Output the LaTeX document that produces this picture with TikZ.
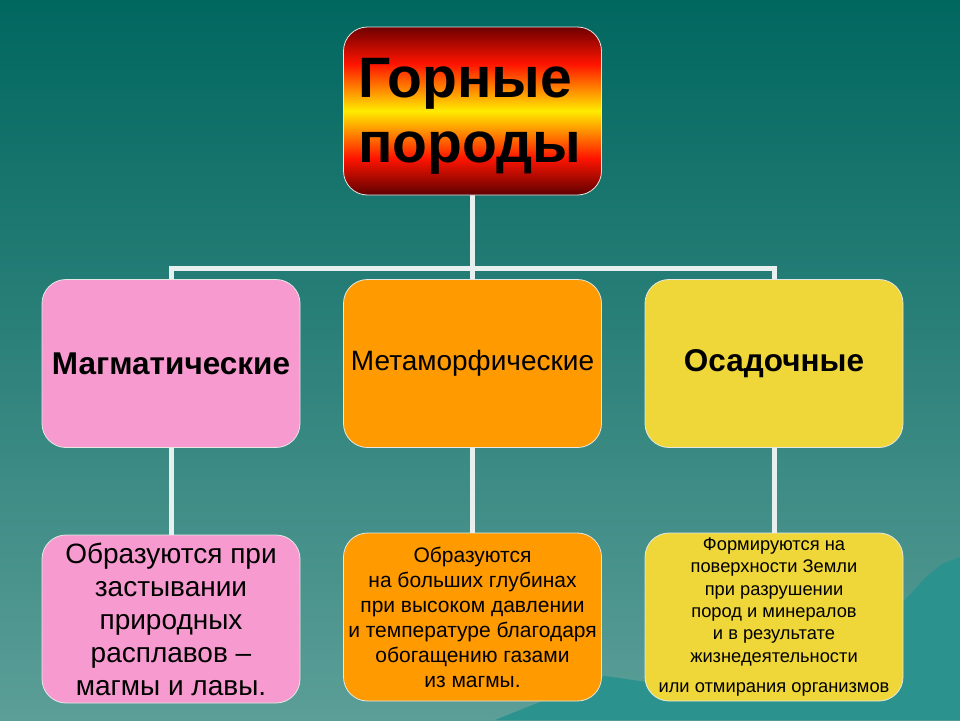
\documentclass[tikz,border=0pt]{standalone}
\usepackage{fontspec}
\setmainfont{Liberation Sans}
\definecolor{bgtop}{HTML}{00675F}
\definecolor{bgmid}{HTML}{357C77}
\definecolor{bgbot}{HTML}{5C9E98}
\definecolor{mount}{HTML}{2B928D}
\definecolor{fdark}{HTML}{6E0000}
\definecolor{fdarkb}{HTML}{5E0000}
\definecolor{fred}{HTML}{FF1400}
\definecolor{fyel}{HTML}{FFEC00}
\definecolor{cpink}{HTML}{F79ACF}
\definecolor{corange}{HTML}{FF9A00}
\definecolor{cyellow}{HTML}{EFD73A}
\definecolor{boxline}{HTML}{E4E8E4}
\definecolor{connc}{HTML}{E8F0EF}
\pgfdeclareverticalshading{fire}{100bp}{color(0bp)=(fdarkb); color(25bp)=(fdarkb); color(36bp)=(fred); color(50bp)=(fyel); color(64bp)=(fred); color(75bp)=(fdark); color(100bp)=(fdark)}
\pgfdeclarelayer{bg}
\pgfdeclarelayer{conn}
\pgfsetlayers{bg,conn,main}
\begin{document}
\begin{tikzpicture}[x=1pt,y=-1pt,
  box/.style={draw=boxline, line width=0.8pt, rounded corners=24pt,
    minimum width=258pt, minimum height=168pt, align=center, inner sep=0pt},
  conn/.style={draw=connc, line width=5pt}]
\useasboundingbox (0,0) rectangle (960,720);
\begin{pgfonlayer}{bg}
\fill[top color=bgtop, middle color=bgmid, bottom color=bgbot] (0,0) rectangle (960,720);
\fill[mount] (495,720) -- (540,702) -- (580,686) -- (605,676) -- (640,681) -- (700,690)
  -- (860,640) -- (905,600) -- (925,578) -- (942,564) -- (960,557) -- (960,720) -- cycle;
\end{pgfonlayer}
\node[box, shade, shading=fire] (top) at (472.5,111) {};
\node[font=\fontsize{57}{65}\selectfont\bfseries, align=left, inner sep=0pt] (toptext)
  at ([xshift=-3pt,yshift=-5pt]top.center) {Горные\\ породы};
\node[box, fill=cpink, font=\fontsize{31.5}{36}\selectfont\bfseries] (m1) at (171,363.5)
  {Магматические};
\node[box, fill=corange, font=\fontsize{28}{32}\selectfont] (m2) at (472.5,363.5)
  {Метаморфические};
\node[box, fill=cyellow, font=\fontsize{31.5}{36}\selectfont\bfseries] (m3) at (774,363.5)
  {Осадочные};
\node[box, fill=cpink, font=\fontsize{28}{33}\selectfont] (b1) at (171,619)
  {Образуются при\\ застывании\\ природных\\ расплавов –\\ магмы и лавы.};
\node[box, fill=corange, font=\fontsize{21}{25}\selectfont] (b2) at (472.5,617)
  {Образуются\\ на больших глубинах\\ при высоком давлении\\ и температуре благодаря\\ обогащению газами\\ из магмы.};
\node[box, fill=cyellow, font=\fontsize{18.3}{22.3}\selectfont] (b3) at (774,617)
  {Формируются на\\ поверхности Земли\\ при разрушении\\ пород и минералов\\ и в результате\\ жизнедеятельности\\[8pt] или отмирания организмов};
\begin{pgfonlayer}{conn}
\coordinate (j) at (472.5,268);
\draw[conn] (top.south) -- (j);
\draw[conn] (m1.north) -- (m1.north |- j) -- (m3.north |- j) -- (m3.north);
\draw[conn] (j) -- (m2.north);
\draw[conn] (m1.south) -- (b1.north);
\draw[conn] (m2.south) -- (b2.north);
\draw[conn] (m3.south) -- (b3.north);
\end{pgfonlayer}
\end{tikzpicture}
\end{document}
